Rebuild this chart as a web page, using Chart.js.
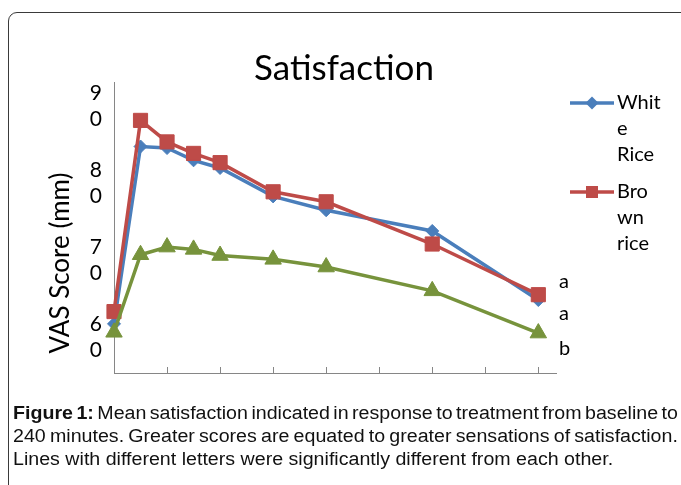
<!DOCTYPE html>
<html>
<head>
<meta charset="utf-8">
<title>Satisfaction</title>
<script src="https://cdn.jsdelivr.net/npm/chart.js@4.4.1/dist/chart.umd.min.js"></script>
<style>
  html, body { margin: 0; padding: 0; background: #fff; overflow: hidden; }
  #frame {
    position: absolute; left: 8px; top: 12px; width: 720px; height: 520px;
    border: 1px solid #3a3a3a; border-top-left-radius: 9px;
  }
  #chart { position: absolute; left: 0; top: 0; }
  #caption {
    position: absolute; left: 13px; top: 402px; width: 610px;
    transform: scaleX(1.09); transform-origin: 0 0;
    font-family: "Liberation Sans", Arial, sans-serif; font-size: 18px; line-height: 23px; color: #111;
  }
  #caption span { display: block; text-align: justify; text-align-last: justify; word-spacing: -2.5px; }
  #caption span.last { text-align: left; text-align-last: left; word-spacing: 0; }
</style>
</head>
<body>
<div id="frame"></div>
<canvas id="chart" width="681" height="420"></canvas>
<div id="caption">
  <span><b>Figure 1:</b> Mean satisfaction indicated in response to treatment from baseline to</span>
  <span>240 minutes. Greater scores are equated to greater sensations of satisfaction.</span>
  <span class="last">Lines with different letters were significantly different from each other.</span>
</div>
<script>
// time after treatment (minutes)
const minutes = [0, 15, 30, 45, 60, 90, 120, 180, 240];
const xTicks = [0, 30, 60, 90, 120, 150, 180, 210, 240];

// VAS score (mm)
const whiteRice = [61.7, 84.8, 84.6, 83.0, 82.0, 78.3, 76.5, 73.8, 64.8];
const brownRice = [63.3, 88.2, 85.4, 83.9, 82.7, 78.9, 77.6, 72.1, 65.5];
const control = [60.6, 70.7, 71.7, 71.4, 70.6, 70.1, 69.1, 66.0, 60.5];

const seriesNames = ['White Rice', 'Brown rice', 'Control'];
const legendLines = [['Whit', 'e', 'Rice'], ['Bro', 'wn', 'rice']];
const yTicks = [60, 70, 80, 90];
const yMin = 55.3, yMax = 93.2;

// significance letters at the end of the lines
const sigLetters = ['a', 'a', 'b'];
const letterAt = [67.2, 63.1, 58.5];

const yTitle = 'VAS Score (mm)';
const colors = ['#4A7EBB', '#BE4B48', '#77933C'];

function toPoints(values) {
    return minutes.map((m, i) => ({ x: m, y: values[i] }));
}

// rotated y axis title, sits a bit low like in the Excel original
const axisTitlePlugin = {
    id: 'axisTitle',
    afterDraw(chart) {
        const ctx = chart.ctx;
        const area = chart.chartArea;
        ctx.save();
        ctx.translate(area.left - 53, area.bottom - 110);
        ctx.rotate(-Math.PI / 2);
        ctx.font = '26px Lato';
        ctx.fillStyle = '#000';
        ctx.textAlign = 'center';
        ctx.textBaseline = 'middle';
        ctx.fillText(yTitle, 0, 0);
        ctx.restore();
    }
};

// Excel style legend: line with marker, label wrapped in a narrow column
const sideLegendPlugin = {
    id: 'sideLegend',
    afterDraw(chart) {
        const ctx = chart.ctx;
        const area = chart.chartArea;
        const x0 = area.right + 14;
        let y = area.top + 21;
        legendLines.forEach((lines, i) => {
            const ds = chart.data.datasets[i];
            ctx.save();
            ctx.strokeStyle = ds.borderColor;
            ctx.fillStyle = ds.borderColor;
            ctx.lineWidth = 3.5;
            ctx.beginPath();
            ctx.moveTo(x0, y);
            ctx.lineTo(x0 + 44, y);
            ctx.stroke();
            const cx = x0 + 22;
            ctx.beginPath();
            if (ds.pointStyle === 'rectRot') {
                ctx.moveTo(cx, y - 6.5);
                ctx.lineTo(cx + 6.5, y);
                ctx.lineTo(cx, y + 6.5);
                ctx.lineTo(cx - 6.5, y);
                ctx.closePath();
            } else {
                ctx.rect(cx - 6, y - 6, 12, 12);
            }
            ctx.fill();
            ctx.fillStyle = '#000';
            ctx.font = '20px Lato';
            ctx.textAlign = 'left';
            ctx.textBaseline = 'middle';
            lines.forEach((t, k) => ctx.fillText(t, x0 + 47, y + k * 26));
            ctx.restore();
            y += 89;
        });
    }
};

function drawChart() {
    const ctx = document.getElementById('chart').getContext('2d');
    const datasets = [
        { label: seriesNames[0], data: toPoints(whiteRice), pointStyle: 'rectRot', pointRadius: 6.5, order: 3 },
        { label: seriesNames[1], data: toPoints(brownRice), pointStyle: 'rect', pointRadius: 10, order: 2 },
        { label: seriesNames[2], data: toPoints(control), pointStyle: 'triangle', pointRadius: 9.5, order: 1 }
    ].map((ds, i) => Object.assign(ds, {
        borderColor: colors[i],
        backgroundColor: colors[i],
        pointBackgroundColor: colors[i],
        pointBorderColor: colors[i],
        pointBorderWidth: 1,
        borderWidth: 3.5,
        tension: 0,
        clip: false
    }));

    new Chart(ctx, {
        type: 'line',
        data: { datasets },
        options: {
            responsive: false,
            animation: false,
            devicePixelRatio: 1,
            layout: { padding: { left: 7, right: 0, top: 0, bottom: 27 } },
            scales: {
                x: {
                    type: 'linear',
                    min: 0,
                    max: 250,
                    afterBuildTicks: axis => { axis.ticks = xTicks.map(v => ({ value: v })); },
                    afterFit: axis => { axis.height = 20; },
                    grid: { display: true, drawOnChartArea: false, drawTicks: true, tickLength: -6, color: '#868686' },
                    border: { display: true, color: '#868686', width: 1 },
                    ticks: { display: false }
                },
                y: {
                    min: yMin,
                    max: yMax,
                    afterBuildTicks: axis => { axis.ticks = yTicks.map(v => ({ value: v })); },
                    afterFit: axis => { axis.width = 107; },
                    grid: { display: false, drawTicks: false },
                    border: { display: true, color: '#868686', width: 1 },
                    ticks: {
                        padding: 12,
                        color: '#000',
                        font: { family: 'Lato', size: 21, lineHeight: '26px' },
                        // the narrow Excel axis wraps "90" into two lines
                        callback: v => String(v).split('')
                    }
                },
                letters: {
                    position: 'right',
                    min: yMin,
                    max: yMax,
                    afterBuildTicks: axis => { axis.ticks = letterAt.map(v => ({ value: v })); },
                    afterFit: axis => { axis.width = 125; },
                    grid: { display: false, drawTicks: false },
                    border: { display: false },
                    ticks: {
                        padding: 3,
                        color: '#000',
                        autoSkip: false,
                        font: { family: 'Lato', size: 20 },
                        callback: (v, i) => sigLetters[i]
                    }
                }
            },
            plugins: {
                title: {
                    display: true,
                    text: 'Satisfaction',
                    color: '#000',
                    font: { family: 'Lato', size: 35, weight: 'normal', lineHeight: '24px' },
                    padding: { top: 57, bottom: 1 }
                },
                legend: { display: false },
                tooltip: { enabled: false }
            }
        },
        plugins: [axisTitlePlugin, sideLegendPlugin]
    });
}

document.fonts.load('20px Lato').then(drawChart, drawChart);
</script>
</body>
</html>
